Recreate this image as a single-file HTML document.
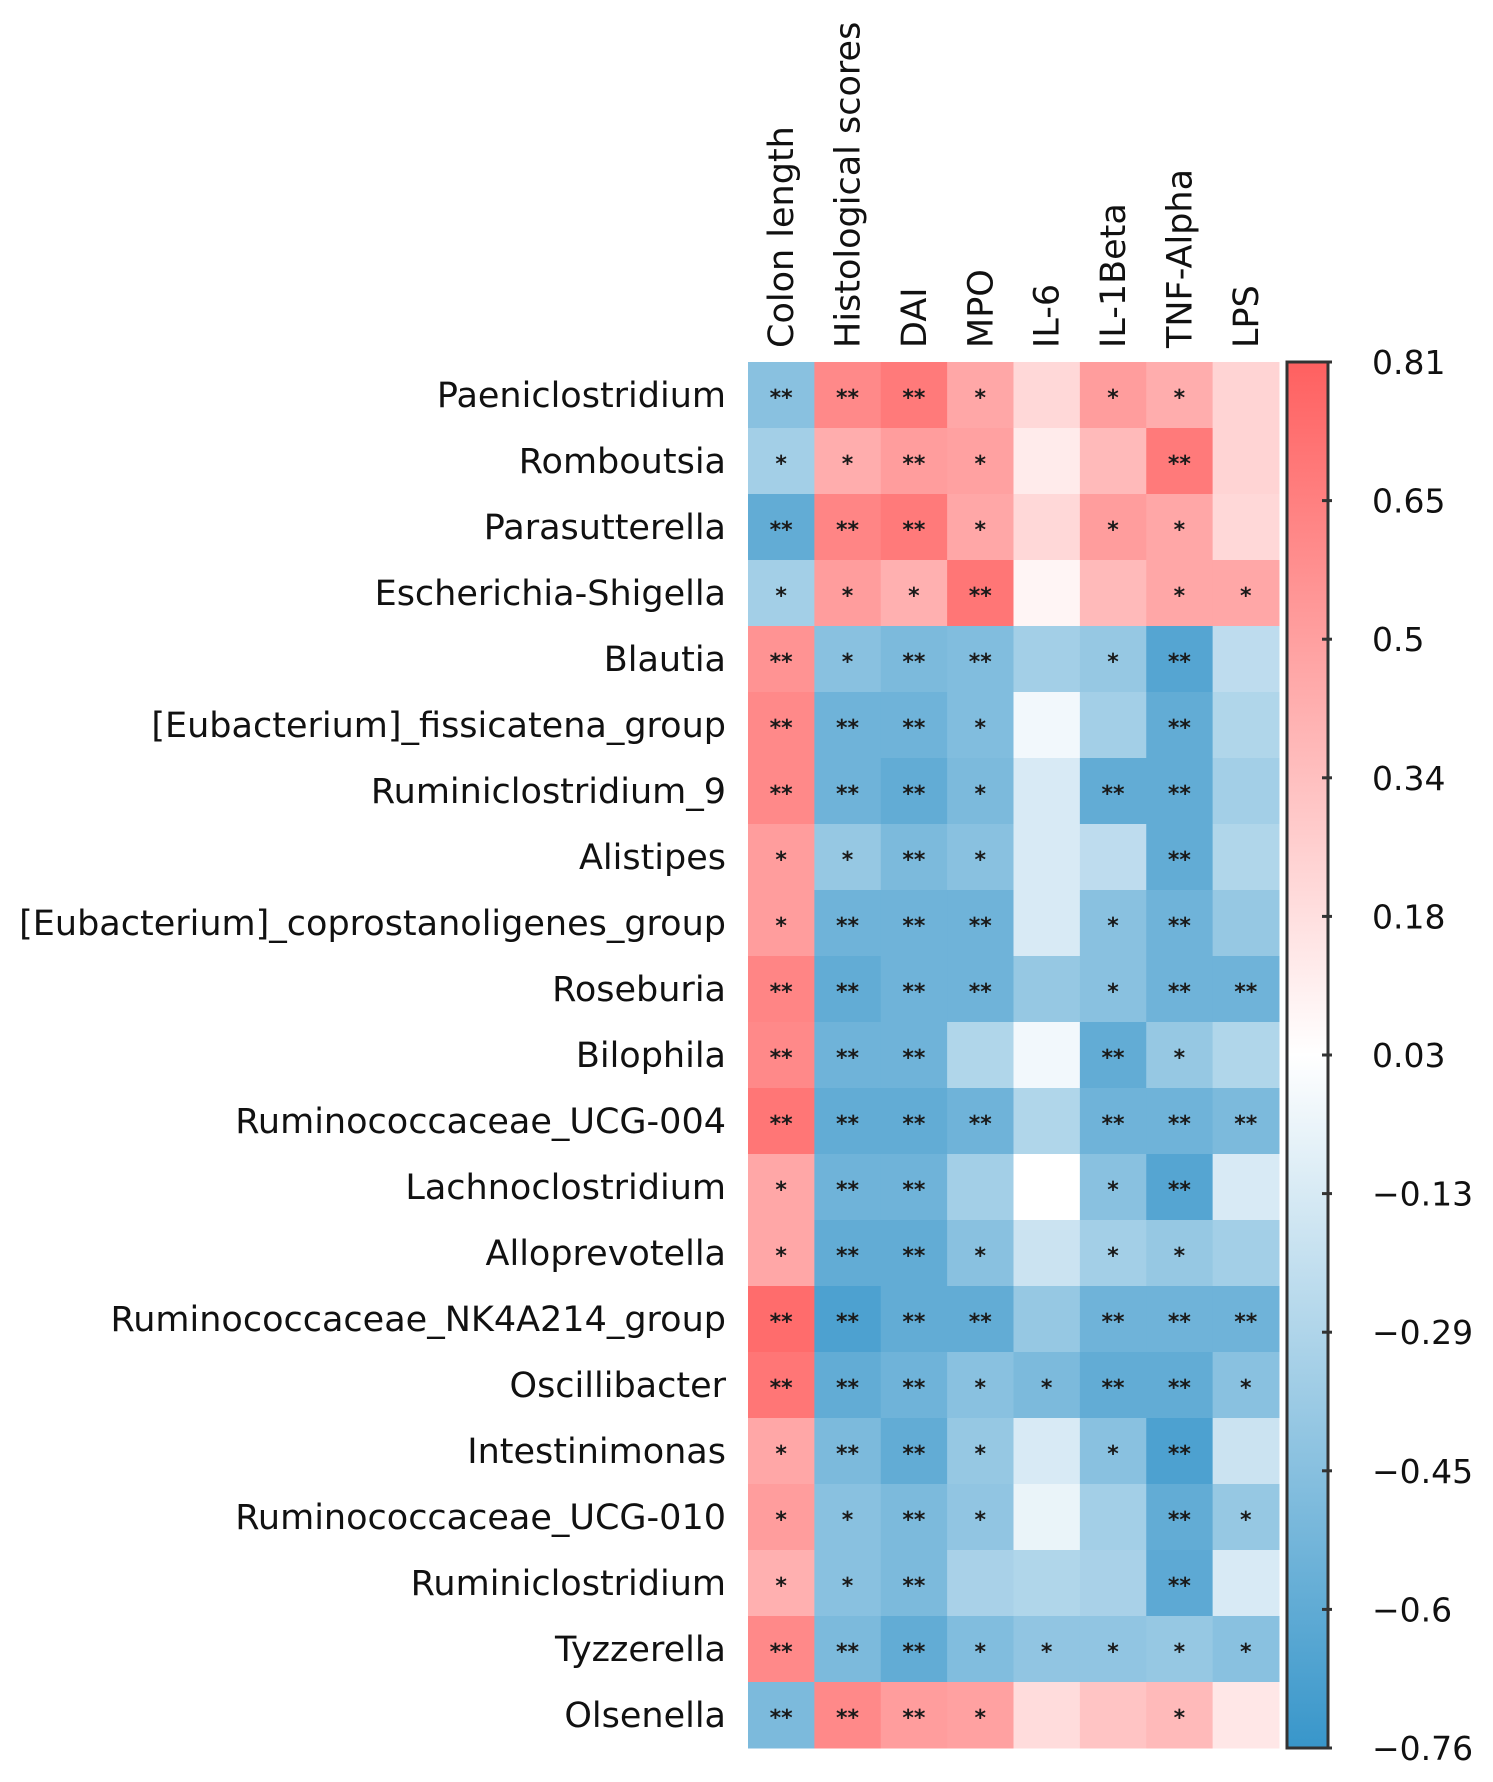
<!DOCTYPE html>
<html><head><meta charset="utf-8"><style>
html,body{margin:0;padding:0;background:#fff;}
svg{display:block;font-family:"DejaVu Sans","Liberation Sans",sans-serif;}
</style></head><body>
<svg id="chart" width="1493" height="1782" viewBox="0 0 1493 1782" xmlns="http://www.w3.org/2000/svg">
<defs>
<linearGradient id="cbgrad" x1="0" y1="1" x2="0" y2="0">
<stop offset="0" stop-color="rgb(56,150,202)"/>
<stop offset="0.5" stop-color="rgb(255,255,255)"/>
<stop offset="1" stop-color="rgb(255,96,96)"/>
</linearGradient>
</defs>
<g id="cells"></g>
<g id="rowlabels"></g>
<g id="collabels"></g>
<g id="colorbar"></g>
</svg>
<script>
const columns = ["Colon length","Histological scores","DAI","MPO","IL-6","IL-1Beta","TNF-Alpha","LPS"];
const rows = ["Paeniclostridium","Romboutsia","Parasutterella","Escherichia-Shigella","Blautia","[Eubacterium]_fissicatena_group","Ruminiclostridium_9","Alistipes","[Eubacterium]_coprostanoligenes_group","Roseburia","Bilophila","Ruminococcaceae_UCG-004","Lachnoclostridium","Alloprevotella","Ruminococcaceae_NK4A214_group","Oscillibacter","Intestinimonas","Ruminococcaceae_UCG-010","Ruminiclostridium","Tyzzerella","Olsenella"];
const values = [
[-0.45,0.60,0.68,0.45,0.20,0.50,0.42,0.22],
[-0.35,0.42,0.50,0.48,0.10,0.35,0.68,0.22],
[-0.60,0.62,0.68,0.45,0.20,0.50,0.45,0.20],
[-0.35,0.50,0.40,0.70,0.05,0.35,0.45,0.45],
[0.55,-0.45,-0.50,-0.48,-0.35,-0.40,-0.65,-0.25],
[0.60,-0.55,-0.55,-0.48,-0.05,-0.35,-0.60,-0.30],
[0.60,-0.55,-0.60,-0.50,-0.15,-0.60,-0.60,-0.35],
[0.50,-0.40,-0.50,-0.45,-0.15,-0.25,-0.60,-0.30],
[0.50,-0.55,-0.55,-0.55,-0.15,-0.45,-0.55,-0.40],
[0.62,-0.60,-0.55,-0.55,-0.40,-0.45,-0.55,-0.55],
[0.60,-0.55,-0.55,-0.30,-0.05,-0.60,-0.40,-0.30],
[0.70,-0.60,-0.60,-0.55,-0.30,-0.55,-0.55,-0.50],
[0.45,-0.55,-0.55,-0.35,0.00,-0.45,-0.65,-0.15],
[0.45,-0.60,-0.60,-0.45,-0.20,-0.35,-0.40,-0.35],
[0.75,-0.68,-0.60,-0.60,-0.40,-0.55,-0.55,-0.55],
[0.70,-0.60,-0.55,-0.45,-0.50,-0.60,-0.60,-0.45],
[0.45,-0.50,-0.60,-0.40,-0.15,-0.45,-0.68,-0.20],
[0.50,-0.45,-0.50,-0.42,-0.08,-0.35,-0.60,-0.40],
[0.40,-0.45,-0.50,-0.33,-0.30,-0.33,-0.62,-0.15],
[0.60,-0.50,-0.60,-0.48,-0.42,-0.42,-0.40,-0.45],
[-0.50,0.60,0.50,0.48,0.18,0.30,0.35,0.12]
];
const stars = [
["**","**","**","*","","*","*",""],
["*","*","**","*","","","**",""],
["**","**","**","*","","*","*",""],
["*","*","*","**","","","*","*"],
["**","*","**","**","","*","**",""],
["**","**","**","*","","","**",""],
["**","**","**","*","","**","**",""],
["*","*","**","*","","","**",""],
["*","**","**","**","","*","**",""],
["**","**","**","**","","*","**","**"],
["**","**","**","","","**","*",""],
["**","**","**","**","","**","**","**"],
["*","**","**","","","*","**",""],
["*","**","**","*","","*","*",""],
["**","**","**","**","","**","**","**"],
["**","**","**","*","*","**","**","*"],
["*","**","**","*","","*","**",""],
["*","*","**","*","","","**","*"],
["*","*","**","","","","**",""],
["**","**","**","*","*","*","*","*"],
["**","**","**","*","","","*",""]
];
const tickLabels = ["0.81","0.65","0.5","0.34","0.18","0.03","\u22120.13","\u22120.29","\u22120.45","\u22120.6","\u22120.76"];
const vmin = -0.76, vmax = 0.81;

const NS = "http://www.w3.org/2000/svg";
const X0 = 748, X1 = 1279, Y0 = 362, Y1 = 1748;
const cw = (X1 - X0) / columns.length, ch = (Y1 - Y0) / rows.length;
const xPos = i => X0 + i * cw;
const yPos = j => Y0 + j * ch;
function color(v){
  if (v >= 0){ const t = Math.min(1, v / vmax);
    return `rgb(255,${Math.round(255 - t*159)},${Math.round(255 - t*159)})`; }
  const t = Math.min(1, v / vmin);
  return `rgb(${Math.round(255 - t*199)},${Math.round(255 - t*105)},${Math.round(255 - t*53)})`;
}
function mk(tag, attrs, parent){ const e = document.createElementNS(NS, tag); for (const k in attrs) e.setAttribute(k, attrs[k]); parent.appendChild(e); return e; }

const cells = document.getElementById('cells');
values.forEach((row, j) => row.forEach((v, i) => {
  const r = mk('rect', {x: xPos(i), y: yPos(j), width: cw + 0.5, height: ch + 0.5, fill: color(v)}, cells);
  
  
  if (stars[j][i]) {
    const t = mk('text', {x: xPos(i) + cw/2, y: yPos(j) + ch/2 + 10, 'text-anchor': 'middle', 'font-size': 22, 'font-weight': 'bold', fill: '#1a1a1a'}, cells);
    t.textContent = stars[j][i];
    
    
  }
}));

const rl = document.getElementById('rowlabels');
rows.forEach((name, j) => {
  const t = mk('text', {x: 726, y: yPos(j) + ch/2 + 12, 'text-anchor': 'end', 'font-size': 35, fill: '#111'}, rl);
  t.textContent = name;
  
  
});

const cl = document.getElementById('collabels');
columns.forEach((name, i) => {
  const cx = xPos(i) + cw/2 + 12;
  const t = mk('text', {x: cx, y: 348, transform: `rotate(-90 ${cx} 348)`, 'text-anchor': 'start', 'font-size': 35, fill: '#111'}, cl);
  t.textContent = name;
  
  
});

const cb = document.getElementById('colorbar');
const CB0 = 1287, CB1 = 1328;
const bar = mk('rect', {x: CB0, y: Y0, width: CB1 - CB0, height: Y1 - Y0, fill: 'url(#cbgrad)', stroke: '#333', 'stroke-width': 3}, cb);


tickLabels.forEach((lab, k) => {
  const y = Y0 + k * (Y1 - Y0) / (tickLabels.length - 1);
  const tk = mk('line', {x1: CB1 - 6, x2: CB1 + 4, y1: y, y2: y, stroke: '#333', 'stroke-width': 3}, cb);
  
  
  const t = mk('text', {x: 1372, y: y + 12, 'font-size': 33, fill: '#111'}, cb);
  t.textContent = lab;
  
  
});
</script>
</body></html>
